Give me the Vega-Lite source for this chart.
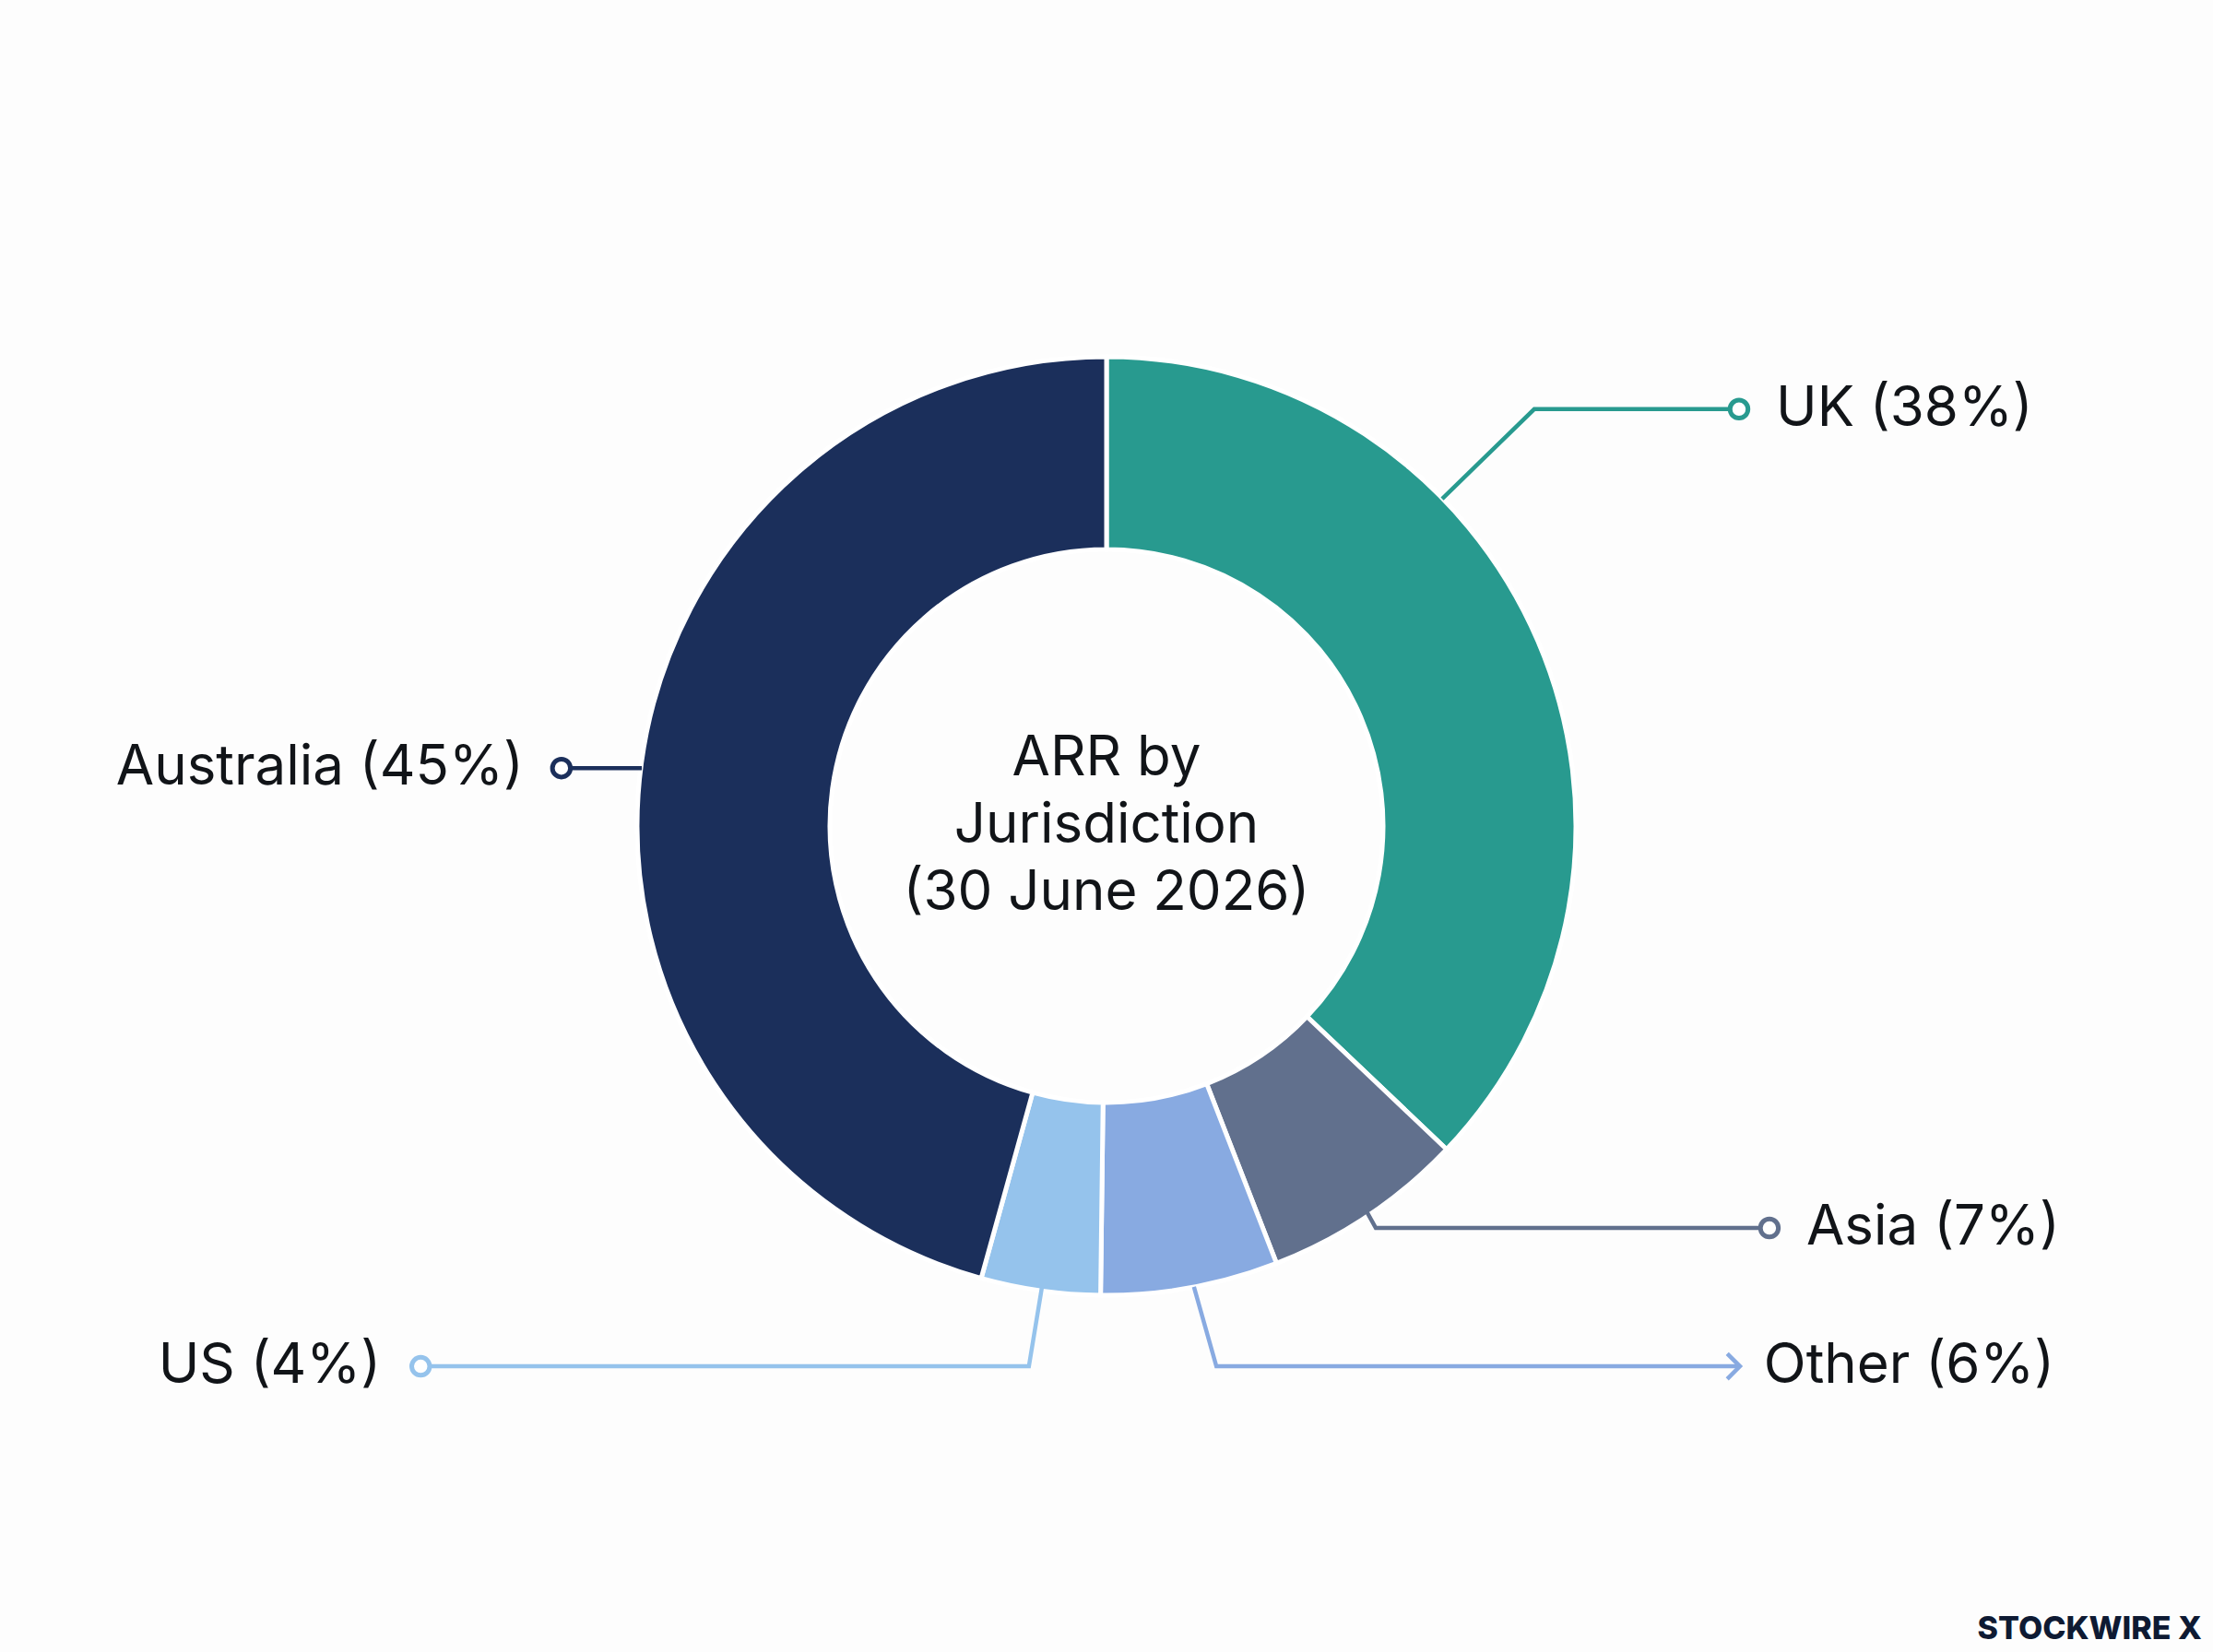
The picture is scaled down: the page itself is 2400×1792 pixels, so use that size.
{
  "$schema": "https://vega.github.io/schema/vega-lite/v6.json",
  "width": 2400,
  "height": 1792,
  "autosize": {"type": "fit", "contains": "padding"},
  "padding": 0,
  "background": "#fdfdfd",
  "config": {"view": {"stroke": null}, "text": {"font": "Inter"}},
  "datasets": {
    "slices": [
      {"jurisdiction": "UK", "share": 37.1, "rank": 1},
      {"jurisdiction": "Asia", "share": 7.0, "rank": 2},
      {"jurisdiction": "Other", "share": 6.1, "rank": 3},
      {"jurisdiction": "US", "share": 4.1, "rank": 4},
      {"jurisdiction": "Australia", "share": 45.7, "rank": 5}
    ],
    "leaders": [
      {"jurisdiction": "UK", "step": 1, "x": 0.718, "y": -0.700, "kind": null},
      {"jurisdiction": "UK", "step": 2, "x": 0.915, "y": -0.892, "kind": null},
      {"jurisdiction": "UK", "step": 3, "x": 1.353, "y": -0.892, "kind": "circle"},
      {"jurisdiction": "Asia", "step": 1, "x": 0.556, "y": 0.824, "kind": null},
      {"jurisdiction": "Asia", "step": 2, "x": 0.576, "y": 0.860, "kind": null},
      {"jurisdiction": "Asia", "step": 3, "x": 1.418, "y": 0.860, "kind": "circle"},
      {"jurisdiction": "Other", "step": 1, "x": 0.187, "y": 0.986, "kind": null},
      {"jurisdiction": "Other", "step": 2, "x": 0.235, "y": 1.156, "kind": null},
      {"jurisdiction": "Other", "step": 3, "x": 1.355, "y": 1.156, "kind": "arrow"},
      {"jurisdiction": "US", "step": 1, "x": -0.138, "y": 0.986, "kind": null},
      {"jurisdiction": "US", "step": 2, "x": -0.166, "y": 1.156, "kind": null},
      {"jurisdiction": "US", "step": 3, "x": -1.467, "y": 1.156, "kind": "circle"},
      {"jurisdiction": "Australia", "step": 1, "x": -0.994, "y": -0.124, "kind": null},
      {"jurisdiction": "Australia", "step": 2, "x": -1.166, "y": -0.124, "kind": "circle"}
    ],
    "labels": [
      {"label": "UK (38%)", "side": "right", "x": 1.432, "y": -0.892},
      {"label": "Asia (7%)", "side": "right", "x": 1.497, "y": 0.860},
      {"label": "Other (6%)", "side": "right", "x": 1.406, "y": 1.156},
      {"label": "US (4%)", "side": "left", "x": -1.552, "y": 1.156},
      {"label": "Australia (45%)", "side": "left", "x": -1.247, "y": -0.124}
    ],
    "notes": [
      {"text": "ARR by\nJurisdiction\n(30 June 2026)", "x": 0, "y": 0, "role": "centre"},
      {"text": "STOCKWIRE X", "x": 2.343, "y": 1.720, "role": "brand"}
    ]
  },
  "layer": [
    {
      "data": {"name": "slices"},
      "mark": {"type": "arc", "innerRadius": 300, "outerRadius": 509, "stroke": "#ffffff", "strokeWidth": 5},
      "encoding": {
        "theta": {"field": "share", "type": "quantitative", "stack": true},
        "order": {"field": "rank", "type": "quantitative"},
        "color": {
          "field": "jurisdiction",
          "type": "nominal",
          "scale": {
            "domain": ["UK", "Asia", "Other", "US", "Australia"],
            "range": ["#289a8f", "#61708d", "#88aae1", "#95c3ec", "#1b2f5b"]
          },
          "legend": null
        }
      }
    },
    {
      "data": {"name": "leaders"},
      "mark": {"type": "line", "strokeWidth": 4.5, "interpolate": "linear"},
      "encoding": {
        "x": {"field": "x", "type": "quantitative", "scale": {"domain": [-2.3669, 2.3669], "nice": false, "zero": false}, "axis": null},
        "y": {"field": "y", "type": "quantitative", "scale": {"domain": [-1.7673, 1.7673], "nice": false, "zero": false, "reverse": true}, "axis": null},
        "order": {"field": "step", "type": "quantitative"},
        "detail": {"field": "jurisdiction"},
        "color": {"field": "jurisdiction", "type": "nominal", "legend": null}
      }
    },
    {
      "data": {"name": "leaders"},
      "transform": [{"filter": "datum.kind == 'circle'"}],
      "mark": {"type": "point", "shape": "circle", "filled": true, "fill": "#ffffff", "size": 380, "strokeWidth": 5, "opacity": 1},
      "encoding": {
        "x": {"field": "x", "type": "quantitative", "scale": {"domain": [-2.3669, 2.3669], "nice": false, "zero": false}, "axis": null},
        "y": {"field": "y", "type": "quantitative", "scale": {"domain": [-1.7673, 1.7673], "nice": false, "zero": false, "reverse": true}, "axis": null},
        "stroke": {
          "field": "jurisdiction",
          "type": "nominal",
          "scale": {
            "domain": ["UK", "Asia", "Other", "US", "Australia"],
            "range": ["#289a8f", "#61708d", "#88aae1", "#95c3ec", "#1b2f5b"]
          },
          "legend": null
        }
      }
    },
    {
      "data": {"name": "leaders"},
      "transform": [{"filter": "datum.kind == 'arrow'"}],
      "mark": {"type": "point", "shape": "M-1,-1L0,0L-1,1", "filled": false, "size": 760, "strokeWidth": 4.5, "opacity": 1},
      "encoding": {
        "x": {"field": "x", "type": "quantitative", "scale": {"domain": [-2.3669, 2.3669], "nice": false, "zero": false}, "axis": null},
        "y": {"field": "y", "type": "quantitative", "scale": {"domain": [-1.7673, 1.7673], "nice": false, "zero": false, "reverse": true}, "axis": null},
        "stroke": {"field": "jurisdiction", "type": "nominal", "legend": null}
      }
    },
    {
      "data": {"name": "labels"},
      "transform": [{"filter": "datum.side == 'right'"}],
      "mark": {"type": "text", "align": "left", "baseline": "middle", "fontSize": 60, "color": "#111418"},
      "encoding": {
        "x": {"field": "x", "type": "quantitative", "scale": {"domain": [-2.3669, 2.3669], "nice": false, "zero": false}, "axis": null},
        "y": {"field": "y", "type": "quantitative", "scale": {"domain": [-1.7673, 1.7673], "nice": false, "zero": false, "reverse": true}, "axis": null},
        "text": {"field": "label"}
      }
    },
    {
      "data": {"name": "labels"},
      "transform": [{"filter": "datum.side == 'left'"}],
      "mark": {"type": "text", "align": "right", "baseline": "middle", "fontSize": 60, "color": "#111418"},
      "encoding": {
        "x": {"field": "x", "type": "quantitative", "scale": {"domain": [-2.3669, 2.3669], "nice": false, "zero": false}, "axis": null},
        "y": {"field": "y", "type": "quantitative", "scale": {"domain": [-1.7673, 1.7673], "nice": false, "zero": false, "reverse": true}, "axis": null},
        "text": {"field": "label"}
      }
    },
    {
      "data": {"name": "notes"},
      "transform": [{"filter": "datum.role == 'centre'"}],
      "mark": {"type": "text", "align": "center", "baseline": "middle", "fontSize": 60, "lineHeight": 73, "lineBreak": "\n", "dy": -73, "color": "#111418"},
      "encoding": {
        "x": {"field": "x", "type": "quantitative", "scale": {"domain": [-2.3669, 2.3669], "nice": false, "zero": false}, "axis": null},
        "y": {"field": "y", "type": "quantitative", "scale": {"domain": [-1.7673, 1.7673], "nice": false, "zero": false, "reverse": true}, "axis": null},
        "text": {"field": "text"}
      }
    },
    {
      "data": {"name": "notes"},
      "transform": [{"filter": "datum.role == 'brand'"}],
      "mark": {"type": "text", "align": "right", "baseline": "middle", "fontSize": 34, "fontWeight": 800, "color": "#0e1a33"},
      "encoding": {
        "x": {"field": "x", "type": "quantitative", "scale": {"domain": [-2.3669, 2.3669], "nice": false, "zero": false}, "axis": null},
        "y": {"field": "y", "type": "quantitative", "scale": {"domain": [-1.7673, 1.7673], "nice": false, "zero": false, "reverse": true}, "axis": null},
        "text": {"field": "text"}
      }
    }
  ]
}
